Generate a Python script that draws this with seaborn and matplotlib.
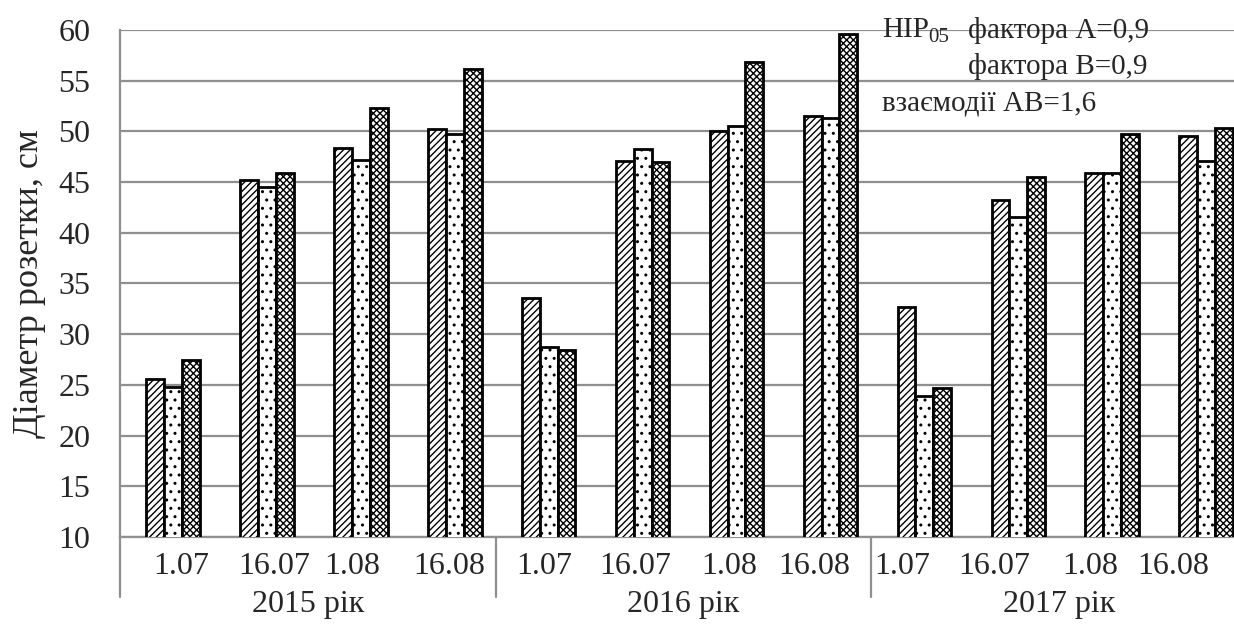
import numpy as np
import pandas as pd
import seaborn as sns
import matplotlib.pyplot as plt

# ---- data: rosette diameter, cm ----
years = ["2015 рік", "2016 рік", "2017 рік"]
dates = ["1.07", "16.07", "1.08", "16.08"]
variants = ["варіант 1", "варіант 2", "варіант 3"]

# rows = measurement dates, columns = variants
d2015 = [[25.6, 24.8, 27.5],
         [45.2, 44.5, 45.9],
         [48.4, 47.2, 52.3],
         [50.2, 49.7, 56.2]]
d2016 = [[33.6, 28.7, 28.4],
         [47.1, 48.3, 47.0],
         [50.0, 50.5, 56.8],
         [51.5, 51.3, 59.6]]
d2017 = [[32.7, 23.9, 24.7],
         [43.2, 41.6, 45.5],
         [45.9, 45.9, 49.7],
         [49.5, 47.1, 50.3]]

lsd_lines = ["фактора А=0,9", "фактора В=0,9", "взаємодії АВ=1,6"]

rows = []
for year, block in zip(years, [d2015, d2016, d2017]):
    for date, vals in zip(dates, block):
        for var, v in zip(variants, vals):
            rows.append({"cat": f"{year}|{date}", "variant": var, "value": v})
df = pd.DataFrame(rows)
cat_order = [f"{y}|{d}" for y in years for d in dates]

# ---- style ----
sns.set_style("white")
plt.rcParams["font.family"] = ["Liberation Serif", "DejaVu Serif"]
plt.rcParams["hatch.linewidth"] = 1.0
plt.rcParams["hatch.color"] = "black"

grey = "#8f8f8f"

fig = plt.figure(figsize=(12.34, 6.28), dpi=100)
ax = fig.add_axes([120 / 1234, 1 - 537 / 628, 1 - 120 / 1234, (537 - 30) / 628])

sns.barplot(data=df, x="cat", y="value", hue="variant", order=cat_order,
            hue_order=variants, width=0.57, gap=0,
            palette=["white"] * 3, edgecolor="black", linewidth=2.0,
            legend=False, ax=ax, zorder=3)

hatches = ["/////", "..", "xxxxx"]
for cont, h in zip(ax.containers, hatches):
    for bar in cont:
        bar.set_hatch(h)
        bar.set_facecolor("white")
        bar.set_edgecolor("black")

# bars sit slightly right of centre inside each category in this layout
x_left = -0.564
ax.set_xlim(x_left, 11.296)
ax.set_ylim(10, 60)
ax.set_yticks(np.arange(10, 61, 5))
ax.yaxis.grid(True, color=grey, linewidth=1.6, zorder=0)
ax.set_axisbelow(True)

for s in ["top", "right"]:
    ax.spines[s].set_visible(False)
ax.spines["left"].set_color(grey)
ax.spines["left"].set_linewidth(1.6)
ax.spines["bottom"].set_color(grey)
ax.spines["bottom"].set_linewidth(1.6)

ax.tick_params(axis="y", direction="out", length=8.5, width=1.6, color=grey,
               pad=13, labelsize=23)
ax.tick_params(axis="x", length=0, pad=11, labelsize=23)

# date labels are packed a little to the left so the last one fits
label_pos = [0.085, 1.077, 1.909, 2.944,
             3.947, 4.917, 5.92, 6.827,
             7.765, 8.747, 9.76, 10.645]
ax.set_xticks(label_pos)
ax.set_xticklabels([c.split("|")[1] for c in cat_order])

ax.set_xlabel("")
ax.set_ylabel("Діаметр розетки, см", fontsize=26, labelpad=9)

# group separators and year labels below the axis
trans = ax.get_xaxis_transform()
for k in range(len(years)):
    xb = x_left + 4 * k
    ax.plot([xb, xb], [0, -0.118], transform=trans, color=grey,
            linewidth=1.6, clip_on=False)
    ax.text(xb + 2, -0.134, years[k], transform=trans, ha="center",
            va="center", fontsize=23)

# least significant difference note
fig.text(882 / 1234, 1 - 30 / 628, "НІР", fontsize=21, ha="left", va="center")
fig.text(928 / 1234, 1 - 38 / 628, "05", fontsize=15, ha="left", va="center")
fig.text(968 / 1234, 1 - 30 / 628, lsd_lines[0], fontsize=21, ha="left", va="center")
fig.text(968 / 1234, 1 - 67 / 628, lsd_lines[1], fontsize=21, ha="left", va="center")
fig.text(882 / 1234, 1 - 104 / 628, lsd_lines[2], fontsize=21, ha="left", va="center")

fig.savefig("out.png", dpi=100)
